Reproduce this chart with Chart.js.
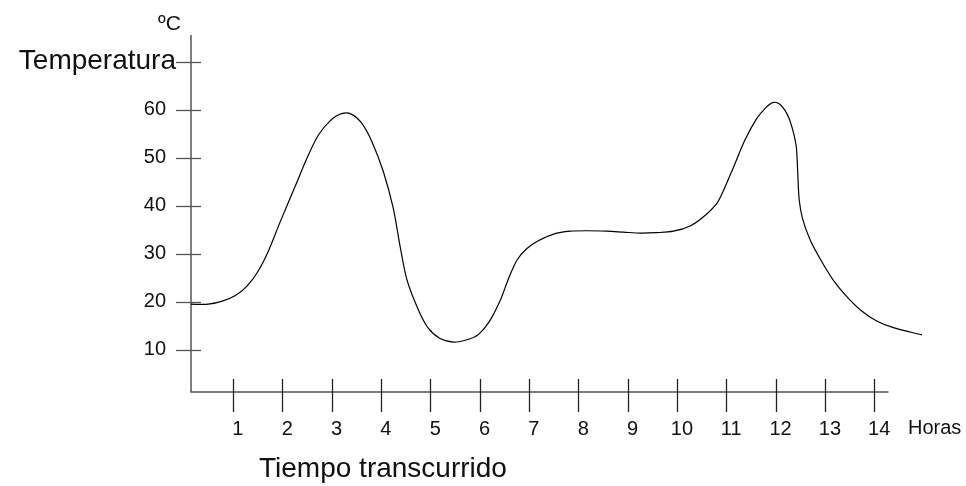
<!DOCTYPE html>
<html>
<head>
<meta charset="utf-8">
<script src="https://cdn.jsdelivr.net/npm/chart.js@4"></script>
<style>
  body { margin: 0; background: #fff; }
  #wrap { width: 966px; height: 486px; }
</style>
</head>
<body>
<div id="wrap"><canvas id="tempChart"></canvas></div>
<script>
// hours elapsed and temperature (ºC)
const hours = [0.15, 0.5, 0.8, 1.05, 1.28, 1.5, 1.72, 1.96, 2.26, 2.5, 2.73, 2.97, 3.2, 3.4, 3.61, 3.82,
  4.05, 4.25, 4.39, 4.53, 4.76, 4.96, 5.19, 5.47, 5.78, 5.98, 6.2, 6.42, 6.59, 6.76, 6.96, 7.19,
  7.5, 7.84, 8.18, 8.58, 8.92, 9.26, 9.59, 9.93, 10.27, 10.54, 10.81, 10.95, 11.15, 11.38, 11.62,
  11.79, 11.94, 12.08, 12.23, 12.33, 12.42, 12.45, 12.48, 12.55, 12.7, 12.9, 13.17, 13.45, 13.72,
  14.05, 14.39, 14.97];
const temps = [19.5, 19.5, 20.2, 21.3, 23.2, 26.2, 30.6, 36.7, 44, 49.9, 54.7, 57.7, 59.2, 59.1, 57.2, 53.3,
  47.1, 39.5, 31.5, 24.5, 18.3, 14.5, 12.4, 11.6, 12.2, 13.2, 15.9, 20.3, 24.9, 28.7, 31.1, 32.7,
  34.1, 34.7, 34.8, 34.7, 34.5, 34.3, 34.4, 34.7, 35.8, 37.7, 40.5, 43.3, 48.1, 53.7, 58.2,
  60.3, 61.5, 61.2, 59.2, 56.5, 52.3, 46.8, 41.2, 37.2, 32.9, 29, 24.5, 21, 18.3,
  16, 14.6, 13.1];

const xTicks = [1, 2, 3, 4, 5, 6, 7, 8, 9, 10, 11, 12, 13, 14];
const yTicks = [10, 20, 30, 40, 50, 60, 70];
const yTickLabels = ['10', '20', '30', '40', '50', '60', 'Temperatura'];
const xAxisEnd = 14.29;

const FONT = '"Liberation Sans", Arial, sans-serif';

const sketchAxes = {
  id: 'sketchAxes',
  beforeDatasetsDraw(chart) {
    const ctx = chart.ctx;
    const xs = chart.scales.x, ys = chart.scales.y;
    const area = chart.chartArea;
    const x0 = area.left, y0 = area.bottom;
    ctx.save();
    // axes
    ctx.strokeStyle = '#555';
    ctx.lineWidth = 1.5;
    ctx.beginPath();
    ctx.moveTo(x0, area.top);
    ctx.lineTo(x0, y0);
    ctx.lineTo(xs.getPixelForValue(xAxisEnd), y0);
    ctx.stroke();
    // y ticks, crossing the axis
    ctx.lineWidth = 1.3;
    yTicks.forEach(v => {
      const py = Math.round(ys.getPixelForValue(v)) + 0.5;
      ctx.beginPath();
      ctx.moveTo(x0 - 15, py);
      ctx.lineTo(x0 + 10, py);
      ctx.stroke();
    });
    // x ticks
    ctx.strokeStyle = '#222';
    xTicks.forEach(v => {
      const px = Math.round(xs.getPixelForValue(v)) + 0.5;
      ctx.beginPath();
      ctx.moveTo(px, y0 - 13);
      ctx.lineTo(px, y0 + 20);
      ctx.stroke();
    });
    ctx.restore();
  },
  afterDraw(chart) {
    const ctx = chart.ctx;
    const xs = chart.scales.x, ys = chart.scales.y;
    const area = chart.chartArea;
    ctx.save();
    ctx.fillStyle = '#111';
    // y labels
    ctx.textAlign = 'right';
    ctx.textBaseline = 'middle';
    yTicks.forEach((v, i) => {
      const py = ys.getPixelForValue(v);
      if (yTickLabels[i].length > 2) {
        ctx.font = '28px ' + FONT;
        ctx.textBaseline = 'alphabetic';
        ctx.fillText(yTickLabels[i], area.left - 15, py + 7);
        ctx.textBaseline = 'middle';
      } else {
        ctx.font = '20px ' + FONT;
        ctx.fillText(yTickLabels[i], area.left - 25, py);
      }
    });
    // unit
    ctx.font = '21px ' + FONT;
    ctx.textAlign = 'left';
    ctx.textBaseline = 'alphabetic';
    ctx.fillText('ºC', 158, 30);
    // x labels
    ctx.font = '20px ' + FONT;
    ctx.textAlign = 'center';
    ctx.textBaseline = 'middle';
    xTicks.forEach(v => {
      ctx.fillText(String(v), xs.getPixelForValue(v) + 5, area.bottom + 37);
    });
    ctx.textAlign = 'left';
    ctx.fillText('Horas', 908, area.bottom + 36);
    // axis title
    ctx.font = '28px ' + FONT;
    ctx.textBaseline = 'alphabetic';
    ctx.fillText('Tiempo transcurrido', 259, 477);
    ctx.restore();
  }
};

const ctx = document.getElementById('tempChart').getContext('2d');
new Chart(ctx, {
  type: 'line',
  data: {
    datasets: [{
      data: hours.map((h, i) => ({ x: h, y: temps[i] })),
      borderColor: '#000',
      borderWidth: 1.2,
      pointRadius: 0,
      fill: false,
      tension: 0.3,
      clip: false
    }]
  },
  options: {
    responsive: true,
    maintainAspectRatio: false,
    animation: false,
    layout: { padding: { left: 191, right: 40, top: 35, bottom: 94 } },
    plugins: { legend: { display: false }, tooltip: { enabled: false } },
    scales: {
      x: { type: 'linear', min: 0.15, max: 15.05, display: false },
      y: { min: 1.2, max: 75.58, display: false }
    }
  },
  plugins: [sketchAxes]
});
</script>
</body>
</html>
